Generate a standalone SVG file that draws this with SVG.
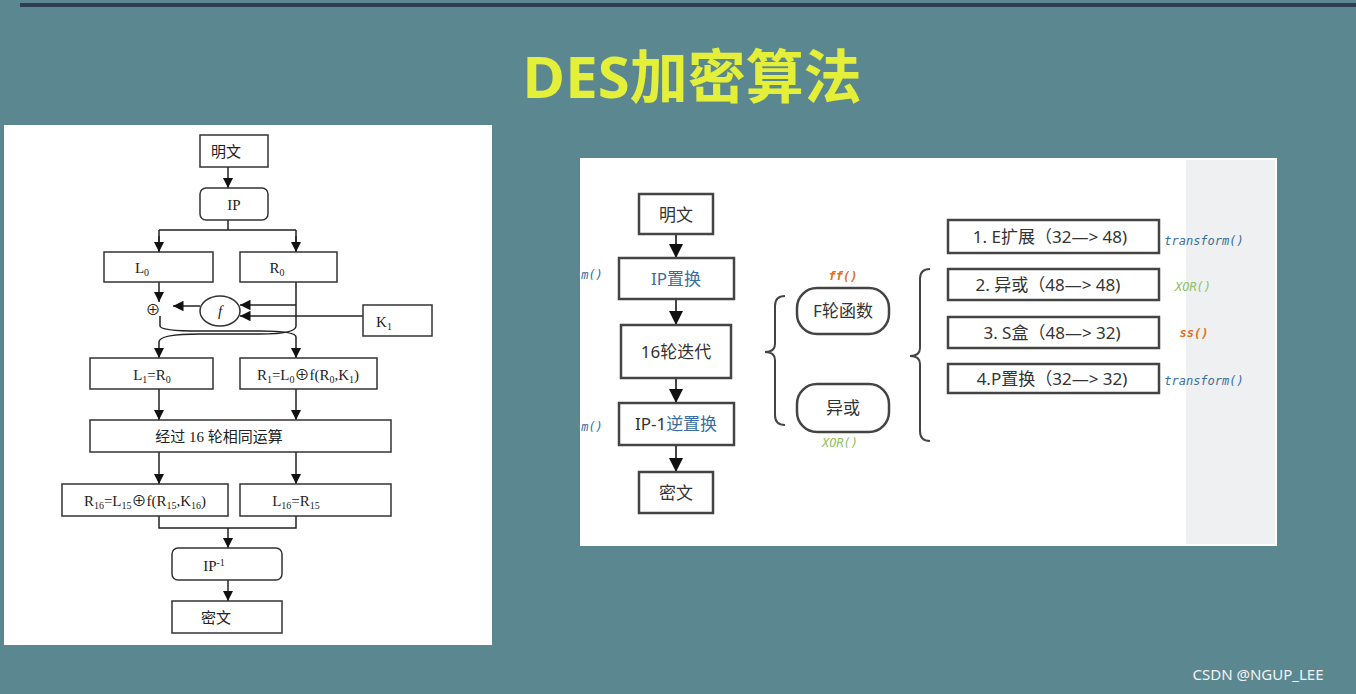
<svg xmlns="http://www.w3.org/2000/svg" width="1356" height="694" viewBox="0 0 1356 694">
<style>
.b{fill:#fff;stroke:#333;stroke-width:1.5}
.l{fill:none;stroke:#222;stroke-width:1.5}
.t{font-family:"Liberation Serif","Noto Sans CJK SC",serif;font-size:15px;fill:#222;text-anchor:middle}
.rb{fill:#fff;stroke:#444;stroke-width:2.5}
.rt{font-family:"Noto Sans","Noto Sans CJK SC",sans-serif;font-size:17px;fill:#333;text-anchor:middle}
.c{font-family:"DejaVu Sans Mono",monospace;font-style:italic;font-size:12px;text-anchor:middle}
.l2{fill:none;stroke:#444;stroke-width:2}
</style>
<defs>
<marker id="a" viewBox="0 0 10 10" refX="10" refY="5" markerWidth="7" markerHeight="7" orient="auto"><path d="M0,0L10,5L0,10z" fill="#111"/></marker>
</defs>
<rect width="1356" height="694" fill="#5b8890"/>
<rect x="20" y="3" width="1336" height="4" fill="#2f3d52"/>
<text x="692" y="98" font-family="'Open Sans','Noto Sans CJK SC',sans-serif" font-weight="bold" font-size="58" fill="#e4ef3a" text-anchor="middle">DES加密算法</text>

<rect x="4" y="125" width="488" height="520" fill="#fff"/>
<g id="conn-left">
<path class="l" d="M228,167V188" marker-end="url(#a)"/>
<path class="l" d="M228,220V230M159,230H296M159,230V252M296,230V252" />
<path class="l" d="M159,236V252" marker-end="url(#a)"/>
<path class="l" d="M296,236V252" marker-end="url(#a)"/>
<path class="l" d="M159,282V302" marker-end="url(#a)"/>
<path class="l" d="M200,306H173" marker-end="url(#a)"/>
<path class="l" d="M296,282V326M296,305H240" marker-end="url(#a)"/>
<path class="l" d="M363,316H240" marker-end="url(#a)"/>
<path class="l" d="M160,316V326Q160,331 200,331H260Q296,331 296,337V358" marker-end="url(#a)"/>
<path class="l" d="M296,326Q296,334 260,334H200Q159,334 159,342V358" marker-end="url(#a)"/>
<path class="l" d="M159,389V420" marker-end="url(#a)"/>
<path class="l" d="M296,389V420" marker-end="url(#a)"/>
<path class="l" d="M159,452V484" marker-end="url(#a)"/>
<path class="l" d="M296,452V484" marker-end="url(#a)"/>
<path class="l" d="M159,516V528H296V516M228,528V548" marker-end="url(#a)"/>
<path class="l" d="M228,580V601" marker-end="url(#a)"/>
</g>
<g id="n-mw"><rect class="b" x="200" y="135" width="68" height="32"/><text class="t" x="226" y="157">明文</text></g>
<g id="n-ip"><rect class="b" x="200" y="188" width="68" height="32" rx="6"/><text class="t" x="234" y="210">IP</text></g>
<g id="n-l0"><rect class="b" x="104" y="252" width="109" height="30"/><text class="t" x="142" y="273">L<tspan font-size="10" dy="3">0</tspan></text></g>
<g id="n-r0"><rect class="b" x="240" y="252" width="97" height="30"/><text class="t" x="277" y="273">R<tspan font-size="10" dy="3">0</tspan></text></g>
<g id="n-xor"><text class="t" x="153" y="315">⊕</text></g>
<g id="n-f"><ellipse class="b" cx="220" cy="311" rx="20" ry="15"/><text class="t" x="220" y="316" font-size="10" font-style="italic">f</text></g>
<g id="n-k1"><rect class="b" x="363" y="305" width="69" height="31"/><text class="t" x="384" y="327">K<tspan font-size="10" dy="3">1</tspan></text></g>
<g id="n-l1"><rect class="b" x="90" y="358" width="123" height="31"/><text class="t" x="152" y="380">L<tspan font-size="10" dy="3">1</tspan><tspan dy="-3">=R</tspan><tspan font-size="10" dy="3">0</tspan></text></g>
<g id="n-r1"><rect class="b" x="240" y="358" width="137" height="31"/><text class="t" x="308" y="380">R<tspan font-size="10" dy="3">1</tspan><tspan dy="-3">=L</tspan><tspan font-size="10" dy="3">0</tspan><tspan dy="-3">⊕f(R</tspan><tspan font-size="10" dy="3">0</tspan><tspan dy="-3">,K</tspan><tspan font-size="10" dy="3">1</tspan><tspan dy="-3">)</tspan></text></g>
<g id="n-16"><rect class="b" x="90" y="420" width="301" height="32"/><text class="t" x="219" y="442">经过 16 轮相同运算</text></g>
<g id="n-r16"><rect class="b" x="62" y="484" width="166" height="32"/><text class="t" x="145" y="506">R<tspan font-size="10" dy="3">16</tspan><tspan dy="-3">=L</tspan><tspan font-size="10" dy="3">15</tspan><tspan dy="-3">⊕f(R</tspan><tspan font-size="10" dy="3">15</tspan><tspan dy="-3">,K</tspan><tspan font-size="10" dy="3">16</tspan><tspan dy="-3">)</tspan></text></g>
<g id="n-l16"><rect class="b" x="240" y="484" width="151" height="32"/><text class="t" x="296" y="506">L<tspan font-size="10" dy="3">16</tspan><tspan dy="-3">=R</tspan><tspan font-size="10" dy="3">15</tspan></text></g>
<g id="n-ipi"><rect class="b" x="172" y="548" width="110" height="32" rx="6"/><text class="t" x="214" y="571">IP<tspan font-size="10" dy="-5">-1</tspan></text></g>
<g id="n-mi"><rect class="b" x="172" y="601" width="110" height="32"/><text class="t" x="216" y="623">密文</text></g>

<rect x="580" y="158" width="697" height="388" fill="#fff"/>
<rect x="1186" y="160" width="89" height="384" fill="#eef0f1"/>
<text class="c" x="592" y="279" fill="#3a6ea0">m()</text>
<text class="c" x="592" y="431" fill="#3a6ea0">m()</text>
<g id="conn-right">
<path class="l2" d="M676,234V258" marker-end="url(#a)"/>
<path class="l2" d="M676,299V325" marker-end="url(#a)"/>
<path class="l2" d="M676,378V403" marker-end="url(#a)"/>
<path class="l2" d="M676,445V472" marker-end="url(#a)"/>
<path class="l2" d="M785,296Q775,296 775,306V344Q775,352 765,352Q775,352 775,360V415Q775,425 785,425"/>
<path class="l2" d="M930,269Q920,269 920,279V348Q920,356 910,356Q920,356 920,364V431Q920,441 930,441"/>
</g>
<g id="r-mw"><rect class="rb" x="639" y="194" width="74" height="40"/><text class="rt" x="676" y="221">明文</text></g>
<g id="r-ip"><rect class="rb" x="619" y="258" width="115" height="41"/><text class="rt" x="676" y="285"><tspan fill="#3a6ea0">IP置换</tspan></text></g>
<g id="r-16"><rect class="rb" x="621" y="325" width="110" height="53"/><text class="rt" x="676" y="358">16轮迭代</text></g>
<g id="r-ipi"><rect class="rb" x="619" y="403" width="115" height="42"/><text class="rt" x="676" y="430">IP-1<tspan fill="#3a6ea0">逆置换</tspan></text></g>
<g id="r-mi"><rect class="rb" x="639" y="472" width="74" height="41"/><text class="rt" x="676" y="499">密文</text></g>
<g id="r-f"><rect class="rb" x="797" y="288" width="92" height="46" rx="20"/><text class="rt" x="843" y="317">F轮函数</text><text class="c" x="843" y="280" fill="#e07020" font-weight="bold">ff()</text></g>
<g id="r-x"><rect class="rb" x="797" y="384" width="92" height="48" rx="20"/><text class="rt" x="843" y="414" fill="#7ab040">异或</text><text class="c" x="840" y="447" fill="#8ec060">XOR()</text></g>
<g id="r-1"><rect class="rb" x="948" y="220" width="211" height="33"/><text class="rt" x="1050" y="243" fill="#3a6ea0">1. E扩展（32—&gt; 48)</text><text class="c" x="1204" y="245" fill="#3a6ea0">transform()</text></g>
<g id="r-2"><rect class="rb" x="948" y="269" width="211" height="31"/><text class="rt" x="1048" y="291" fill="#8ab840">2. 异或（48—&gt; 48)</text><text class="c" x="1193" y="291" fill="#8ec060">XOR()</text></g>
<g id="r-3"><rect class="rb" x="948" y="317" width="211" height="31"/><text class="rt" x="1052" y="339">3. S盒（48—&gt; 32)</text><text class="c" x="1194" y="337" fill="#e07020" font-weight="bold">ss()</text></g>
<g id="r-4"><rect class="rb" x="948" y="364" width="211" height="29"/><text class="rt" x="1052" y="385" fill="#3a6ea0">4.P置换（32—&gt; 32)</text><text class="c" x="1204" y="385" fill="#3a6ea0">transform()</text></g>
<text x="1258" y="680" font-family="'Noto Sans',sans-serif" font-size="15" fill="#f2f2f2" text-anchor="middle">CSDN @NGUP_LEE</text>
</svg>
